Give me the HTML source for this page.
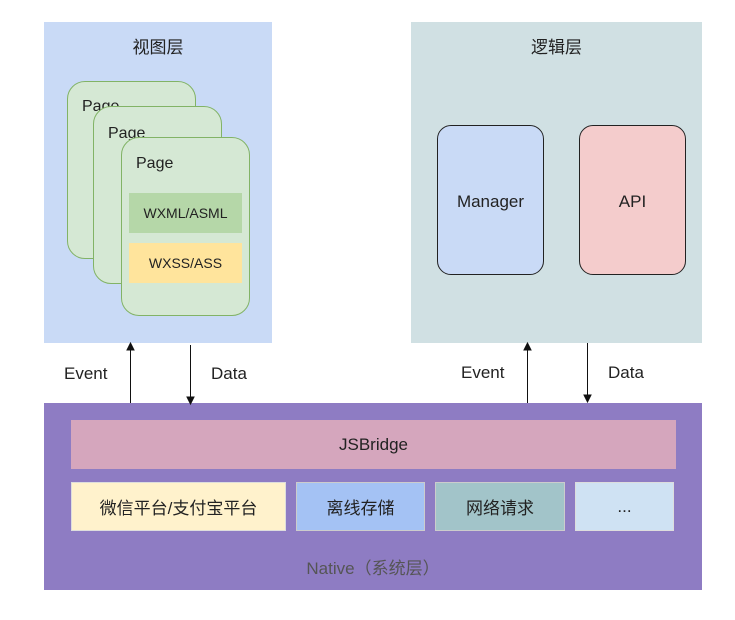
<!DOCTYPE html>
<html><head><meta charset="utf-8"><style>
body{margin:0;width:735px;height:620px;background:#fff;position:relative;font-family:"Liberation Sans","Noto Sans CJK SC",sans-serif;color:#222;overflow:hidden}
div{position:absolute;box-sizing:border-box}
.c{display:flex;align-items:center;justify-content:center}
.pg{background:#d5e8d4;border:1px solid #82b366;border-radius:18px}
.pt{font-size:16px;left:14px;top:17px}
.t{font-size:17px}
</style></head><body>
<div style="left:44px;top:22px;width:228px;height:321px;background:#c9daf6"></div>
<div class="t" style="left:44px;top:33px;width:228px;text-align:center;font-size:17px">视图层</div>
<div class="pg" style="left:67px;top:81px;width:129px;height:178px"><div class="pt" style="top:16px">Page</div></div>
<div class="pg" style="left:93px;top:106px;width:129px;height:178px"><div class="pt" style="top:18px">Page</div></div>
<div class="pg" style="left:121px;top:137px;width:129px;height:179px"><div class="pt">Page</div></div>
<div class="c" style="left:129px;top:193px;width:113px;height:40px;background:#b5d7a8;font-size:14px">WXML/ASML</div>
<div class="c" style="left:129px;top:243px;width:113px;height:40px;background:#ffe49c;font-size:14px">WXSS/ASS</div>

<div style="left:411px;top:22px;width:291px;height:321px;background:#d0e0e3"></div>
<div class="t" style="left:411px;top:33px;width:291px;text-align:center;font-size:17px">逻辑层</div>
<div class="c" style="left:437px;top:125px;width:107px;height:150px;background:#c9daf6;border:1px solid #222;border-radius:14px;font-size:17px;padding-top:4px">Manager</div>
<div class="c" style="left:579px;top:125px;width:107px;height:150px;background:#f4cccc;border:1px solid #222;border-radius:14px;font-size:17px;padding-top:4px">API</div>

<div style="left:44px;top:403px;width:658px;height:187px;background:#8e7cc3"></div>
<div class="c" style="left:71px;top:420px;width:605px;height:49px;background:#d5a6bd;font-size:17px">JSBridge</div>
<div class="c" style="left:71px;top:482px;width:215px;height:49px;background:#fff2cc;border:1px solid #ddd;font-size:17px">微信平台/支付宝平台</div>
<div class="c" style="left:296px;top:482px;width:129px;height:49px;background:#a4c2f4;border:1px solid #ccc;font-size:17px">离线存储</div>
<div class="c" style="left:435px;top:482px;width:130px;height:49px;background:#a2c4c9;border:1px solid #ccc;font-size:17px">网络请求</div>
<div class="c" style="left:575px;top:482px;width:99px;height:49px;background:#cfe2f3;border:1px solid #ddd;font-size:17px">...</div>
<div style="left:44px;top:554px;width:658px;text-align:center;font-size:17px;color:#555">Native（系统层）</div>

<div class="t" style="left:64px;top:364px">Event</div>
<div class="t" style="left:211px;top:364px">Data</div>
<div class="t" style="left:461px;top:363px">Event</div>
<div class="t" style="left:608px;top:363px">Data</div>
<svg width="735" height="620" style="position:absolute;left:0;top:0">
<g stroke="#111" stroke-width="1" fill="#111">
<line x1="130.5" y1="403" x2="130.5" y2="349"/><path d="M127 350 L130.5 343 L134 350Z"/>
<line x1="190.5" y1="345" x2="190.5" y2="398"/><path d="M187 397 L190.5 404 L194 397Z"/>
<line x1="527.5" y1="403" x2="527.5" y2="349"/><path d="M524 350 L527.5 343 L531 350Z"/>
<line x1="587.5" y1="343" x2="587.5" y2="396"/><path d="M584 395 L587.5 402 L591 395Z"/>
</g></svg>
</body></html>
